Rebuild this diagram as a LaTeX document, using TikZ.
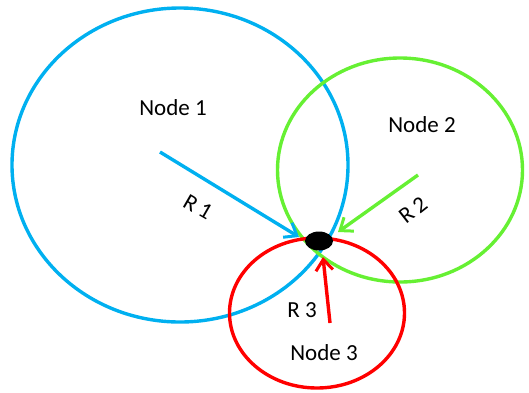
\documentclass[tikz,border=0pt]{standalone}
\usepackage{fontspec}
\setmainfont{Carlito}
\usetikzlibrary{shapes.geometric,arrows.meta}
\definecolor{cblue}{HTML}{00B0F0}
\definecolor{cgreen}{HTML}{66F033}
\definecolor{cred}{HTML}{FF0000}
\begin{document}
\begin{tikzpicture}[x=1pt,y=-1pt,
  ring/.style={ellipse,draw,line width=3.4pt,inner sep=0pt},
  ray/.style={line width=3.4pt,-{Straight Barb[length=11pt,width=17pt,line width=3pt]}},
  lbl/.style={font=\fontsize{23}{27}\selectfont,inner sep=0pt}]
\useasboundingbox (0,0) rectangle (529,392);
\node[ring,cblue,minimum width=336pt,minimum height=314pt] (c1) at (180,165) {};
\node[ring,cgreen,minimum width=245pt,minimum height=224pt] (c2) at (400,170) {};
\node[ring,cred,minimum width=175pt,minimum height=150pt] (c3) at (317,313) {};
\coordinate (s1) at (160,152);
\coordinate (t1) at (299,237);
\coordinate (s2) at (418,175);
\coordinate (t2) at (338,232);
\coordinate (s3) at (330,323);
\coordinate (t3) at (323,257);
\draw[ray,cblue] (s1) -- (t1);
\draw[ray,cgreen] (s2) -- (t2);
\draw[ray,cred] (s3) -- (t3);
\node[ellipse,fill=black,minimum width=28pt,minimum height=19pt,inner sep=0pt] (dot) at (319,241) {};
\node[lbl] (n1) at (173,108) {Node 1};
\node[lbl] (n2) at (422,125) {Node 2};
\node[lbl] (n3) at (324,353) {Node 3};
\node[lbl,rotate=-30] (r1) at (198,207) {R 1};
\node[lbl,rotate=38] (r2) at (413,210) {R 2};
\node[lbl] (r3) at (302,310) {R 3};
\end{tikzpicture}
\end{document}
